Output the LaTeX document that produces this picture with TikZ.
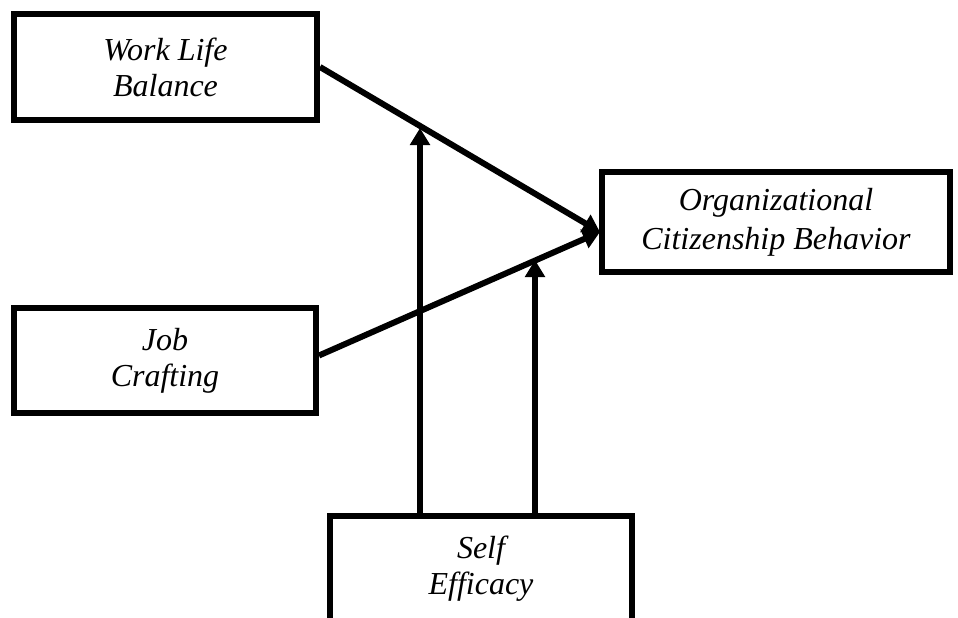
\documentclass[tikz,border=0pt]{standalone}
\usepackage{fontspec}
\setmainfont{Liberation Serif}
\usetikzlibrary{arrows.meta}
\begin{document}
\begin{tikzpicture}[x=0.75pt,y=-0.75pt,
  box/.style={draw=black,fill=white,line width=4.5pt,align=center,inner sep=0pt,
    font=\fontsize{24}{27}\selectfont\itshape},
  link/.style={line width=4.5pt,-{Triangle[width=14.5pt,length=12.75pt]}}]
\useasboundingbox (0,0) rectangle (958,618);
\clip (0,0) rectangle (958,618);
\node[box,minimum width=227.25pt,minimum height=79.5pt] (wlb) at (165.5,67) {Work Life\\Balance};
\node[box,minimum width=226.5pt,minimum height=78.75pt] (jc) at (165,360.5) {Job\\Crafting};
\node[box,minimum width=261pt,minimum height=75pt,font=\fontsize{24}{29}\selectfont\itshape] (ocb) at (776,222) {Organizational\\Citizenship Behavior};
\node[box,minimum width=226.5pt,minimum height=78.75pt] (se) at (481,568.5) {Self\\Efficacy};
\coordinate (tip) at (600,232);
\coordinate (m1) at (420,128);
\coordinate (m2) at (535,260);
\draw[link] (wlb.east) -- (tip);
\draw[link] (jc.east) ++(0,-5) -- (tip);
\draw[link] (se.north -| m1) -- (m1);
\draw[link] (se.north -| m2) -- (m2);
\end{tikzpicture}
\end{document}
